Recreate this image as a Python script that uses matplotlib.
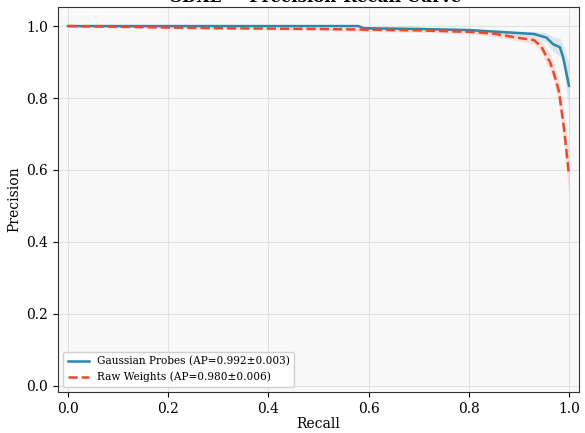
import numpy as np
import matplotlib
matplotlib.use("Agg")
import matplotlib.pyplot as plt

plt.rcParams['font.family'] = 'DejaVu Serif'

# Gaussian Probes mean PR curve and std
gp_recall = [0.0, 0.58, 0.59, 0.7, 0.8, 0.86, 0.93, 0.955, 0.968, 0.982, 0.989, 1.0]
gp_prec = [1.0, 1.0, 0.994, 0.992, 0.989, 0.984, 0.978, 0.968, 0.95, 0.941, 0.91, 0.834]
gp_std = [0.001, 0.001, 0.002, 0.002, 0.003, 0.004, 0.007, 0.013, 0.02, 0.026, 0.035, 0.06]

# Raw Weights mean PR curve and std
rw_recall = [0.0, 0.1, 0.2, 0.3, 0.4, 0.5, 0.6, 0.7, 0.8, 0.85, 0.9, 0.93,
             0.945, 0.955, 0.962, 0.972, 0.98, 0.99, 1.0]
rw_prec = [1.0, 0.998, 0.996, 0.994, 0.993, 0.992, 0.990, 0.988, 0.984, 0.979,
           0.967, 0.961, 0.943, 0.915, 0.901, 0.859, 0.818, 0.716, 0.586]
rw_std = [0.001, 0.002, 0.003, 0.003, 0.004, 0.004, 0.005, 0.005, 0.006, 0.008,
          0.009, 0.011, 0.016, 0.021, 0.022, 0.027, 0.032, 0.042, 0.065]

labels = ['Gaussian Probes (AP=0.992±0.003)', 'Raw Weights (AP=0.980±0.006)']
title = 'SDXL — Precision-Recall Curve'

blue = '#2E86AB'
red = '#E84A2F'

fig = plt.figure(figsize=(5.85, 4.33), dpi=100)
ax = fig.add_axes([58/585, 1 - 392/433, 521/585, 385/433])
ax.set_facecolor('#f9f9f9')

for r, p, s, c, ls, lab in [(gp_recall, gp_prec, gp_std, blue, '-', labels[0]),
                            (rw_recall, rw_prec, rw_std, red, '--', labels[1])]:
    r = np.array(r); p = np.array(p); s = np.array(s)
    ax.fill_between(r, p - s, np.minimum(p + s, 1.0), color=c, alpha=0.15, lw=0)
    ax.plot(r, p, color=c, ls=ls, lw=1.8, label=lab)

ax.set_xlim(-0.02, 1.02)
ax.set_ylim(-0.017, 1.053)
ax.set_xticks(np.arange(0, 1.01, 0.2))
ax.set_yticks(np.arange(0, 1.01, 0.2))
ax.grid(True, color='#dddddd', alpha=0.8, lw=0.8)
ax.set_axisbelow(True)
for sp in ax.spines.values():
    sp.set_color('#333333')
ax.tick_params(labelsize=10)
ax.set_xlabel('Recall', fontsize=10, labelpad=1)
ax.set_ylabel('Precision', fontsize=10)
ax.legend(loc='lower left', fontsize=7.6, framealpha=0.9)

# title sits partly above the top edge, as in the source image
fig.text(316/585, 1 - 1.5/433, title, ha='center', va='baseline',
         fontsize=12, fontweight='bold')

fig.savefig('out.png', dpi=100)
